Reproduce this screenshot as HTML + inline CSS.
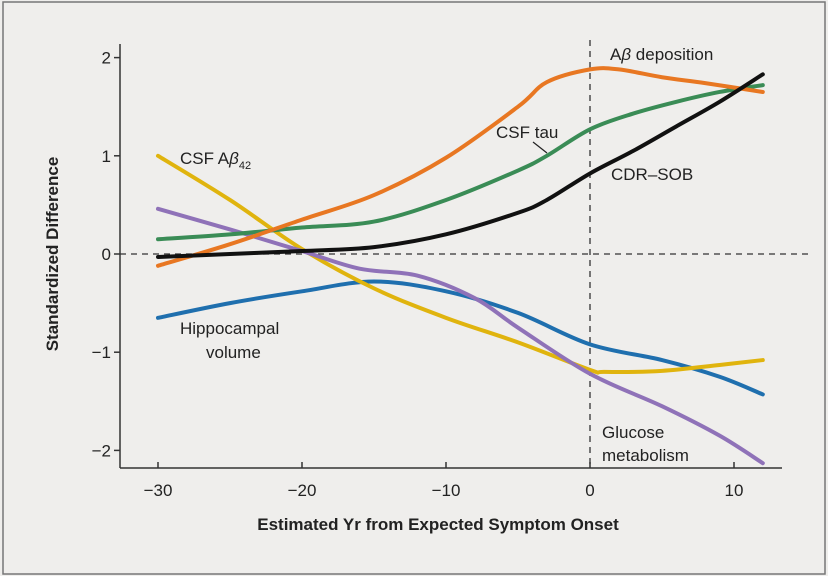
<!DOCTYPE html>
<html><head><meta charset="utf-8"><style>
html,body{margin:0;padding:0;background:#efeeec;}
svg{display:block;font-family:"Liberation Sans",sans-serif;}
</style></head><body>
<svg id="chart" width="828" height="576" viewBox="0 0 828 576" xmlns="http://www.w3.org/2000/svg">
<rect x="0" y="0" width="828" height="576" fill="#efeeec"/>
<rect x="3" y="2" width="822" height="572" fill="none" stroke="#777" stroke-width="1.5"/>
<g id="grid"></g>
<g id="series"></g>
<g id="axes"></g>
<g id="labels" font-size="17" fill="#222">
<text x="610" y="60">A<tspan font-style="italic">β</tspan> deposition</text>
<text x="496" y="138">CSF tau</text>
<line x1="533" y1="142" x2="547" y2="153" stroke="#222" stroke-width="1.2"/>
<text x="611" y="180">CDR–SOB</text>
<text x="180" y="164">CSF A<tspan font-style="italic">β</tspan><tspan font-size="11" dy="5">42</tspan></text>
<text x="180" y="334">Hippocampal</text>
<text x="206" y="358">volume</text>
<text x="602" y="438">Glucose</text>
<text x="602" y="461">metabolism</text>
</g>
<text x="438" y="530" font-size="17" font-weight="bold" text-anchor="middle" fill="#222">Estimated Yr from Expected Symptom Onset</text>
<text transform="translate(58,254) rotate(-90)" font-size="17" font-weight="bold" text-anchor="middle" fill="#222">Standardized Difference</text>
</svg>
<script>
const xTicks=[-30,-20,-10,0,10];
const yTicks=[-2,-1,0,1,2];
const abetaX=[-30,-25,-20,-15,-10,-5,-3,0,2,5,8,12];
const abetaY=[-0.12,0.1,0.35,0.6,0.98,1.5,1.75,1.88,1.88,1.8,1.74,1.65];
const tauX=[-30,-25,-20,-15,-10,-5,-3,0,3,6,9,12];
const tauY=[0.15,0.2,0.27,0.33,0.55,0.85,1.0,1.27,1.43,1.55,1.65,1.72];
const cdrX=[-30,-25,-20,-15,-10,-5,-3,0,3,6,9,12];
const cdrY=[-0.03,0,0.03,0.07,0.2,0.42,0.55,0.82,1.05,1.3,1.55,1.83];
const ab42X=[-30,-25,-20,-15,-10,-5,0,1,5,9,12];
const ab42Y=[1.0,0.55,0.05,-0.35,-0.65,-0.9,-1.18,-1.2,-1.19,-1.13,-1.08];
const hipX=[-30,-25,-20,-15,-10,-5,0,5,9,12];
const hipY=[-0.65,-0.5,-0.38,-0.28,-0.38,-0.6,-0.92,-1.08,-1.25,-1.43];
const gluX=[-30,-25,-20,-16,-12,-8,-5,0,5,9,12];
const gluY=[0.46,0.25,0.03,-0.15,-0.22,-0.45,-0.75,-1.22,-1.55,-1.85,-2.13];
const NS='http://www.w3.org/2000/svg';
const sx=v=>590+v*14.4;
const sy=v=>254-v*98.2;
function mk(t,a,p){const e=document.createElementNS(NS,t);for(const k in a)e.setAttribute(k,a[k]);p.appendChild(e);return e;}
const grid=document.getElementById('grid'),axes=document.getElementById('axes'),ser=document.getElementById('series');
let hz=mk('line',{x1:120,y1:sy(0),x2:812,y2:sy(0),stroke:'#333','stroke-width':1.3,'stroke-dasharray':'6,5'},grid);


let vt=mk('line',{x1:sx(0),y1:40,x2:sx(0),y2:468,stroke:'#333','stroke-width':1.3,'stroke-dasharray':'6,5'},grid);


let ya=mk('line',{x1:120,y1:44,x2:120,y2:468,stroke:'#333','stroke-width':1.5},axes);


let xa=mk('line',{x1:120,y1:468,x2:782,y2:468,stroke:'#333','stroke-width':1.5},axes);


xTicks.forEach(v=>{
 let t=mk('line',{x1:sx(v),y1:462,x2:sx(v),y2:468,stroke:'#333','stroke-width':1.5},axes);
 
 
 let l=mk('text',{x:sx(v),y:496,'font-size':17,'text-anchor':'middle',fill:'#222'},axes);
 l.textContent=v<0?'−'+(-v):String(v);
 
 
});
yTicks.forEach(v=>{
 let t=mk('line',{x1:114,y1:sy(v),x2:120,y2:sy(v),stroke:'#333','stroke-width':1.5},axes);
 
 
 let l=mk('text',{x:111,y:sy(v)+6,'font-size':17,'text-anchor':'end',fill:'#222'},axes);
 l.textContent=v<0?'−'+(-v):String(v);
 
 
});
function path(xs,ys){
 const p=xs.map((x,i)=>[sx(x),sy(ys[i])]);
 let d='M'+p[0][0]+','+p[0][1];
 for(let i=0;i<p.length-1;i++){
  const p0=p[i-1]||p[i],p1=p[i],p2=p[i+1],p3=p[i+2]||p2;
  const c1=[p1[0]+(p2[0]-p0[0])/6,p1[1]+(p2[1]-p0[1])/6];
  const c2=[p2[0]-(p3[0]-p1[0])/6,p2[1]-(p3[1]-p1[1])/6];
  d+=` C${c1[0]},${c1[1]} ${c2[0]},${c2[1]} ${p2[0]},${p2[1]}`;
 }
 return d;
}
const defs=[[hipX,hipY,'#1f6fae','hippocampal-volume-line'],[ab42X,ab42Y,'#e0b40e','csf-abeta42-line'],[gluX,gluY,'#8f72b8','glucose-metabolism-line'],[tauX,tauY,'#3a8c56','csf-tau-line'],[abetaX,abetaY,'#e87722','abeta-deposition-line'],[cdrX,cdrY,'#111','cdr-sob-line']];
defs.forEach(s=>{
 let e=mk('path',{d:path(s[0],s[1]),fill:'none',stroke:s[2],'stroke-width':4,'stroke-linecap':'round'},ser);
 
 
});
</script>
</body></html>
